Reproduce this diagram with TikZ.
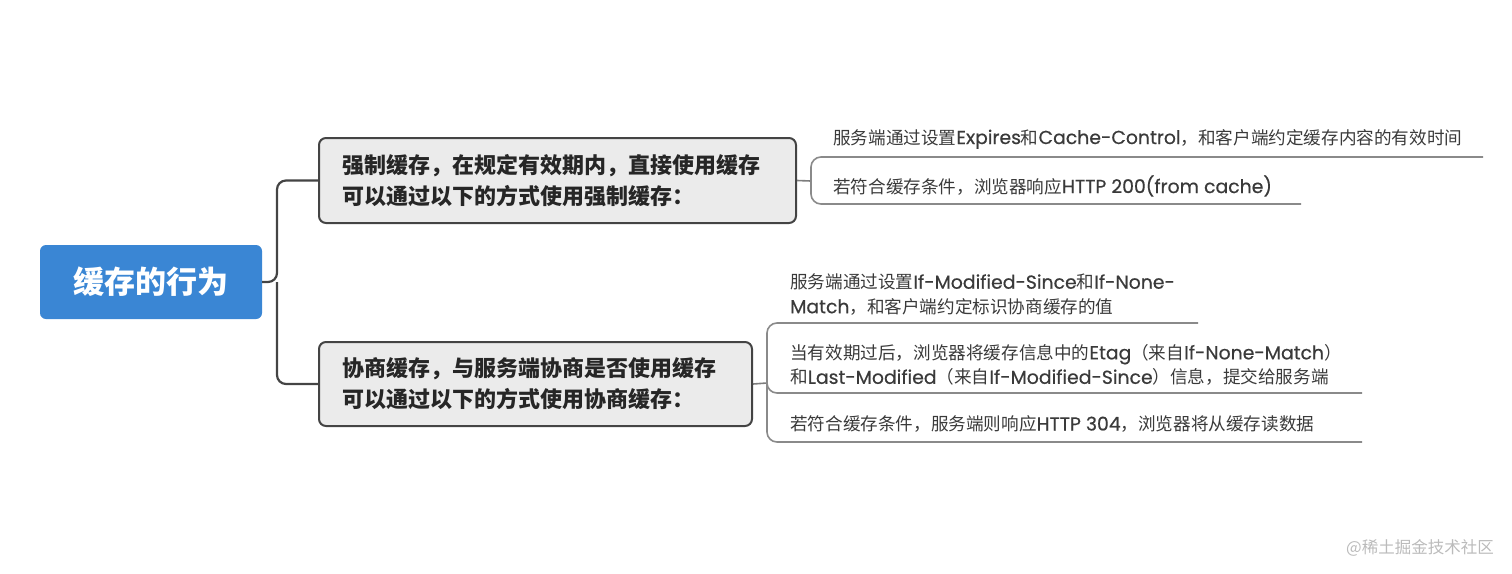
\documentclass[tikz,border=0pt]{standalone}
\usepackage{fontspec}
\setmainfont{Noto Sans CJK SC}
\newfontfamily\lat{Poppins}[Scale=1.07, FakeBold=0.5]
\definecolor{rootblue}{HTML}{3A86D4}
\definecolor{boxfill}{HTML}{EBEBEB}
\definecolor{boxdraw}{HTML}{444444}
\definecolor{leaftext}{HTML}{3A3A3A}
\definecolor{leafline}{HTML}{8A8A8A}
\definecolor{mark}{HTML}{BBBBBB}
\tikzset{
  rootbox/.style={rectangle, rounded corners=6pt, fill=rootblue, text=white,
    minimum width=222pt, minimum height=74pt, inner sep=0pt,
    font=\fontsize{31}{36}\selectfont\bfseries},
  branchbox/.style={rectangle, rounded corners=7pt, fill=boxfill, draw=boxdraw,
    line width=2pt, inner xsep=23pt, inner ysep=0pt, align=left,
    text=black!85, font=\fontsize{22}{31}\selectfont\bfseries},
  leaf/.style={anchor=west, inner sep=0pt, align=left, text=leaftext,
    font=\fontsize{17.6}{24.5}\selectfont},
  mainconn/.style={draw=boxdraw, line width=2.2pt, rounded corners=9pt},
  subconn/.style={draw=leafline!90!black, line width=1.6pt},
  underl/.style={draw=leafline, line width=1.6pt, rounded corners=10pt},
  wmark/.style={text=mark, inner sep=0pt, font=\fontsize{16.5}{20}\selectfont}
}
\begin{document}
\begin{tikzpicture}[x=1pt,y=-1pt]
\useasboundingbox (0,0) rectangle (1512,573);

\node[rootbox] (root) at (151,282) {缓存的行为};

\node[branchbox, minimum width=477pt, minimum height=85pt, text width=431pt] (b1) at (557.5,180.5)
  {强制缓存，在规定有效期内，直接使用缓存\\可以通过以下的方式使用强制缓存：};
\node[branchbox, minimum width=433pt, minimum height=84pt, text width=387pt] (b2) at (535.5,384)
  {协商缓存，与服务端协商是否使用缓存\\可以通过以下的方式使用协商缓存：};

% root connectors
\coordinate (j0) at (277,282);
\draw[mainconn] (root.east) -- (j0) |- (b1.west);
\draw[mainconn] (j0) |- (b2.west);

% top group
\node[leaf] (t1) at (833,139) {服务端通过设置{\lat Expires}和{\lat Cache-Control}，和客户端约定缓存内容的有效时间};
\node[leaf] (t2) at (833,186) {若符合缓存条件，浏览器响应{\lat HTTP 200(from cache)}};
\coordinate (j1) at (811,181);
\coordinate (t1e) at (1483,157);
\coordinate (t2e) at (1301,204);
\draw[subconn] (b1.east) -- (j1);
\draw[underl] (j1) |- (t1e);
\draw[underl] (j1) |- (t2e);

% bottom group
\node[leaf] (u1) at (790,294.5) {服务端通过设置{\lat If-Modified-Since}和{\lat If-None-}\\{\lat Match}，和客户端约定标识协商缓存的值};
\node[leaf] (u2) at (790,365) {当有效期过后，浏览器将缓存信息中的{\lat Etag}（来自{\lat If-None-Match}）\\和{\lat Last-Modified}（来自{\lat If-Modified-Since}）信息，提交给服务端};
\node[leaf] (u3) at (790,424) {若符合缓存条件，服务端则响应{\lat HTTP 304}，浏览器将从缓存读数据};
\coordinate (j2) at (767,383);
\coordinate (u1e) at (1198,323);
\coordinate (u2e) at (1362,393);
\coordinate (u3e) at (1362,442);
\draw[subconn] (b2.east) -- (j2);
\draw[underl] (j2) |- (u1e);
\draw[underl] (j2) |- (u2e);
\draw[underl] (j2) |- (u3e);

\node[wmark, anchor=east] (wm) at (1494,548) {@稀土掘金技术社区};
\end{tikzpicture}
\end{document}
